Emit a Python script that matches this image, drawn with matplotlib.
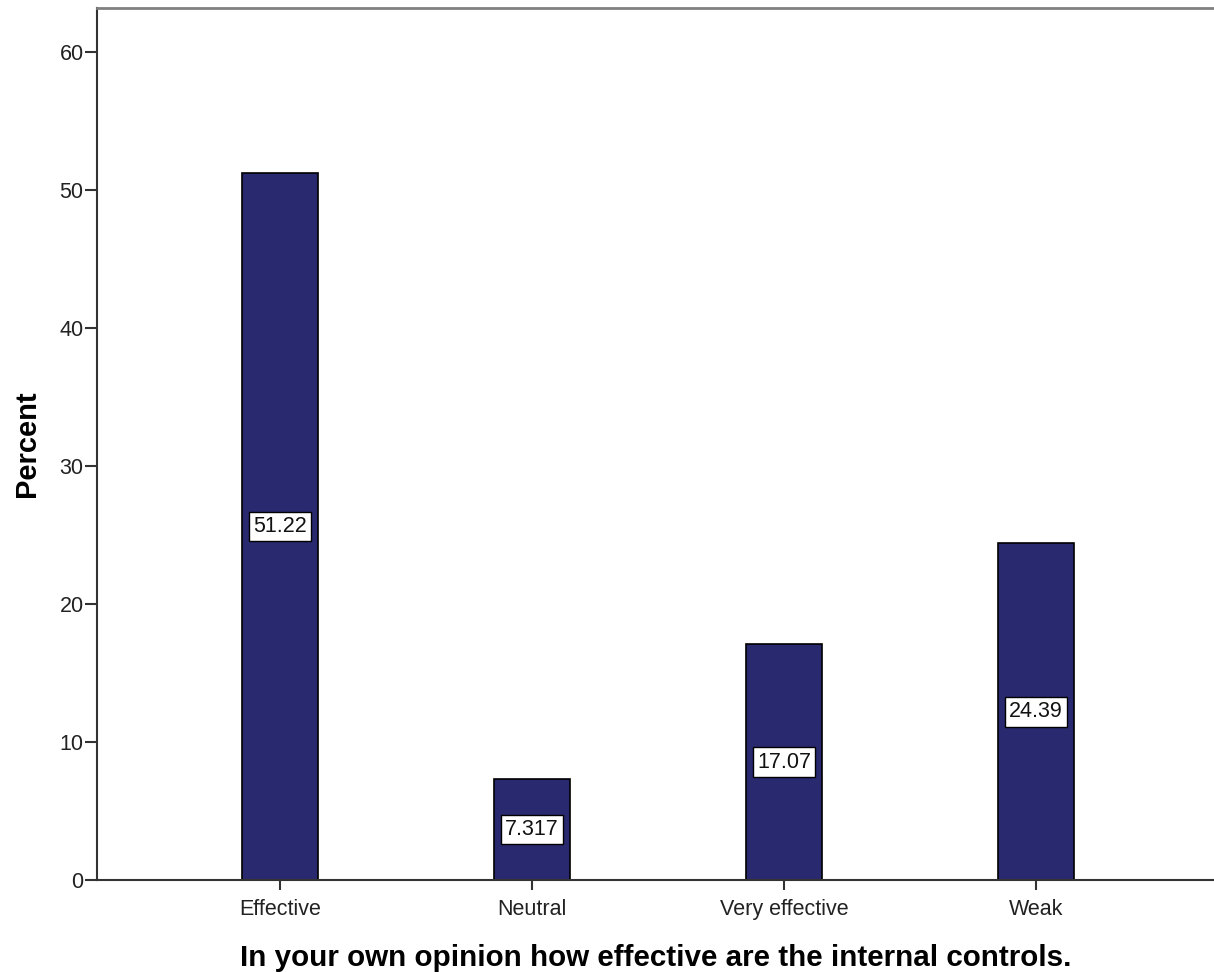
import matplotlib
matplotlib.use("Agg")
import matplotlib.pyplot as plt

categories = ["Effective", "Neutral", "Very effective", "Weak"]
percent = [51.22, 7.317, 17.07, 24.39]
labels = ["51.22", "7.317", "17.07", "24.39"]
yticks = [0, 10, 20, 30, 40, 50, 60]

plt.rcParams['font.family'] = ['Liberation Sans', 'DejaVu Sans']

fig = plt.figure(figsize=(12.14, 9.72), dpi=100)
ax = fig.add_axes([97/1214, 92/972, 1 - 97/1214, (880-8)/972])

x = list(range(len(categories)))
bars = ax.bar(x, percent, width=0.30, color='#29296f', edgecolor='black', linewidth=1.2, zorder=2)

for xi, v, lab in zip(x, percent, labels):
    ax.text(xi, v/2, lab, ha='center', va='center', fontsize=15.5, color='#111111',
            bbox=dict(boxstyle='square,pad=0.2', facecolor='white', edgecolor='black', linewidth=1),
            zorder=3)

ax.set_xlim(-0.726, 3.706)
ax.set_ylim(0, 63.2)
ax.set_xticks(x)
ax.set_xticklabels(categories, fontsize=15.5, color='#222222')
ax.set_yticks(yticks)
ax.set_yticklabels([str(t) for t in yticks], fontsize=15.5, color='#222222')
ax.tick_params(axis='y', length=8.6, width=1.5, color='#333333', pad=1)
ax.tick_params(axis='x', length=7.2, width=1.5, color='#333333', pad=6.5)

ax.spines['right'].set_visible(False)
ax.spines['top'].set_color('#808080')
ax.spines['top'].set_linewidth(2)
ax.spines['left'].set_color('#333333')
ax.spines['left'].set_linewidth(1.5)
ax.spines['bottom'].set_color('#333333')
ax.spines['bottom'].set_linewidth(1.5)

ax.set_ylabel("Percent", fontsize=21, fontweight='bold', labelpad=13)
ax.set_xlabel("In your own opinion how effective are the internal controls.", fontsize=21.3,
              fontweight='bold', labelpad=17)

fig.savefig("out.png", dpi=100)
